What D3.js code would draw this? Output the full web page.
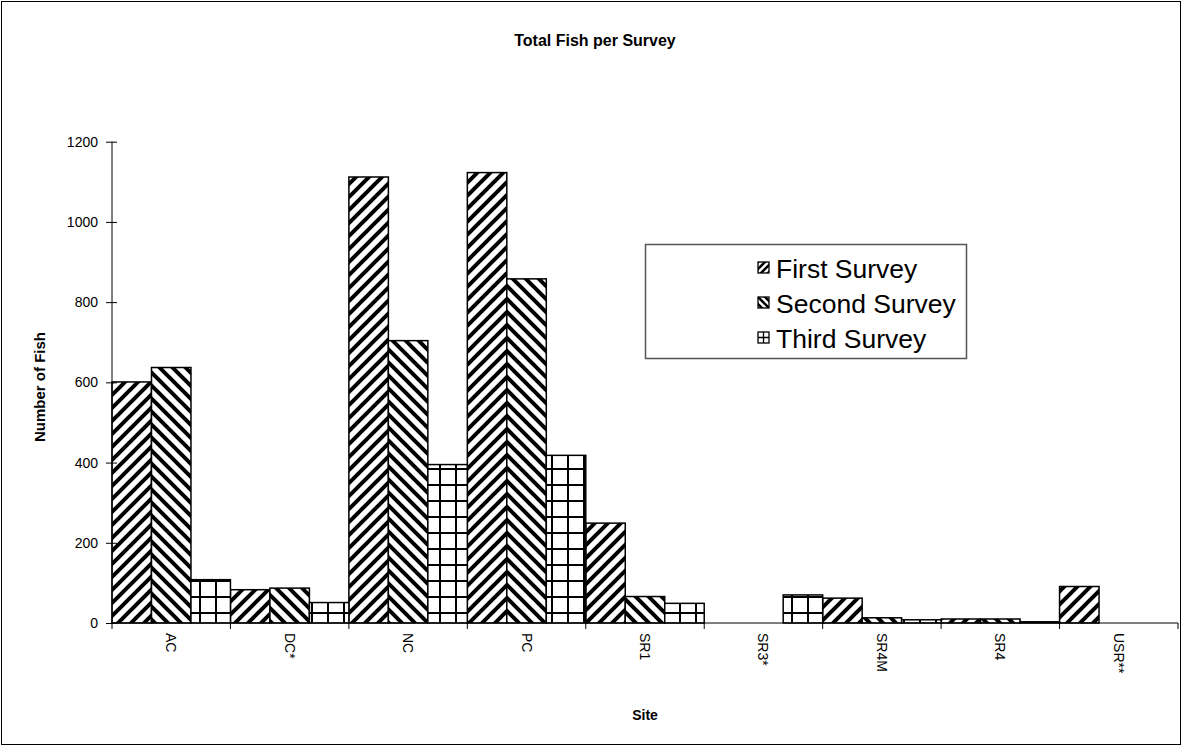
<!DOCTYPE html>
<html>
<head>
<meta charset="utf-8">
<script src="https://cdn.jsdelivr.net/npm/d3@7"></script>
<style>
  html, body { margin: 0; padding: 0; background: #fff; }
  svg { display: block; font-family: "Liberation Sans", Arial, sans-serif; }
</style>
</head>
<body>
<svg id="chart" width="1187" height="746"></svg>
<script>
const sites = ["AC", "DC*", "NC", "PC", "SR1", "SR3*", "SR4M", "SR4", "USR**"];
const seriesNames = ["First Survey", "Second Survey", "Third Survey"];
const firstSurvey  = [601, 83, 1112, 1123, 249, 0, 62, 10, 91];
const secondSurvey = [637, 87, 704, 858, 66, 0, 13, 10, 0];
const thirdSurvey  = [108, 51, 395, 418, 49, 70, 8, 3, 0];
const yTicks = [0, 200, 400, 600, 800, 1000, 1200];

const series = [firstSurvey, secondSurvey, thirdSurvey];
const patternIds = ["pFirst", "pSecond", "pThird"];

const svg = d3.select("#chart");
const m = { left: 112, right: 1178, top: 141.7, bottom: 623 };

// patterns
const defs = svg.append("defs");
function stripe(id, dir, size, sw) {
  const p = defs.append("pattern").attr("id", id).attr("patternUnits", "userSpaceOnUse")
    .attr("width", size).attr("height", size);
  p.append("rect").attr("width", size).attr("height", size).attr("fill", "#fff");
  const s = size;
  const d = dir > 0
    ? `M${-2},${2} L${2},${-2} M0,${s} L${s},0 M${s - 2},${s + 2} L${s + 2},${s - 2}`
    : `M${-2},${s - 2} L${2},${s + 2} M0,0 L${s},${s} M${s - 2},${-2} L${s + 2},${2}`;
  p.append("path").attr("d", d).attr("stroke", "#000").attr("stroke-width", sw).attr("fill", "none");
}
stripe("pFirst", 1, 13, 4);
stripe("pSecond", -1, 13, 4);
stripe("lFirst", 1, 7, 2.5);
stripe("lSecond", -1, 7, 2.5);
const g3 = defs.append("pattern").attr("id", "pThird").attr("patternUnits", "userSpaceOnUse")
  .attr("width", 16).attr("height", 16).attr("x", 7).attr("y", 4);
g3.append("rect").attr("width", 16).attr("height", 16).attr("fill", "#fff");
g3.append("path").attr("d", "M1,0 V16 M0,1 H16").attr("stroke", "#000").attr("stroke-width", 2);

// outer border
svg.append("rect").attr("x", 1.5).attr("y", 1.5).attr("width", 1179).attr("height", 743)
  .attr("fill", "#fff").attr("stroke", "#000").attr("stroke-width", 1);

const x = d3.scaleBand().domain(sites).range([m.left, m.right]).padding(0);
const xi = d3.scaleBand().domain(d3.range(3)).range([0, x.bandwidth()]).padding(0);
const y = d3.scaleLinear().domain([0, 1200]).range([m.bottom, m.top]);

// bars
series.forEach((vals, si) => {
  svg.append("g").selectAll("rect").data(vals).join("rect")
    .attr("x", (d, i) => x(sites[i]) + xi(si))
    .attr("width", xi.bandwidth())
    .attr("y", d => y(d))
    .attr("height", d => y(0) - y(d))
    .attr("fill", `url(#${patternIds[si]})`)
    .attr("stroke", "#000").attr("stroke-width", 1.5)
    .style("display", d => d > 0 ? null : "none");
});

// y axis
const yAxis = svg.append("g").attr("transform", `translate(${m.left},0)`)
  .call(d3.axisLeft(y).tickValues(yTicks).tickSize(6).tickPadding(8).tickFormat(d3.format("d")));
yAxis.select(".domain").attr("stroke", "#000").attr("d", `M0,${m.top}V${m.bottom}`);
yAxis.selectAll(".tick line").attr("x1", 5).attr("x2", -6).attr("stroke", "#000");
yAxis.selectAll(".tick text").attr("font-size", 14).attr("fill", "#000")
  .attr("font-family", "Liberation Sans, Arial, sans-serif");

// x axis
const xAxis = svg.append("g").attr("transform", `translate(0,${m.bottom})`)
  .call(d3.axisBottom(x).tickSize(0).tickPadding(0));
xAxis.select(".domain").attr("stroke", "#000").attr("d", `M${m.left},0H${m.right}`);
const bounds = sites.map(s => x(s)).concat([m.right]);
xAxis.selectAll(".bound").data(bounds).join("line").attr("class", "bound")
  .attr("x1", d => d).attr("x2", d => d).attr("y1", 0).attr("y2", 6).attr("stroke", "#000");
xAxis.selectAll(".tick text")
  .attr("font-size", 14).attr("fill", "#000")
  .attr("font-family", "Liberation Sans, Arial, sans-serif")
  .attr("text-anchor", "start")
  .attr("dy", null)
  .attr("y", 0)
  .attr("transform", "translate(-5,10) rotate(90)");

// titles
svg.append("text").attr("x", 595).attr("y", 46).attr("text-anchor", "middle")
  .attr("font-size", 16).attr("font-weight", "bold").text("Total Fish per Survey");
svg.append("text").attr("x", 645).attr("y", 720).attr("text-anchor", "middle")
  .attr("font-size", 14).attr("font-weight", "bold").text("Site");
svg.append("text").attr("transform", `translate(45,387) rotate(-90)`)
  .attr("text-anchor", "middle").attr("font-size", 15).attr("font-weight", "bold").text("Number of Fish");

// legend
const lg = svg.append("g");
lg.append("rect").attr("x", 645.5).attr("y", 244.5).attr("width", 321).attr("height", 114)
  .attr("fill", "#fff").attr("stroke", "#555").attr("stroke-width", 1.5);
const legendFill = ["url(#lFirst)", "url(#lSecond)", "#fff"];
seriesNames.forEach((name, i) => {
  const cy = 268 + i * 35;
  const sw = lg.append("g").attr("transform", `translate(758,${cy - 6})`);
  sw.append("rect").attr("width", 11).attr("height", 11).attr("fill", legendFill[i])
    .attr("stroke", "#000").attr("stroke-width", 1.3);
  if (i === 2) {
    sw.append("path").attr("d", "M5.5,0V11M0,5.5H11").attr("stroke", "#000").attr("stroke-width", 1.3);
  }
  lg.append("text").attr("x", 776).attr("y", cy + 9.5).attr("font-size", 26.5).text(name);
});
</script>
</body>
</html>
